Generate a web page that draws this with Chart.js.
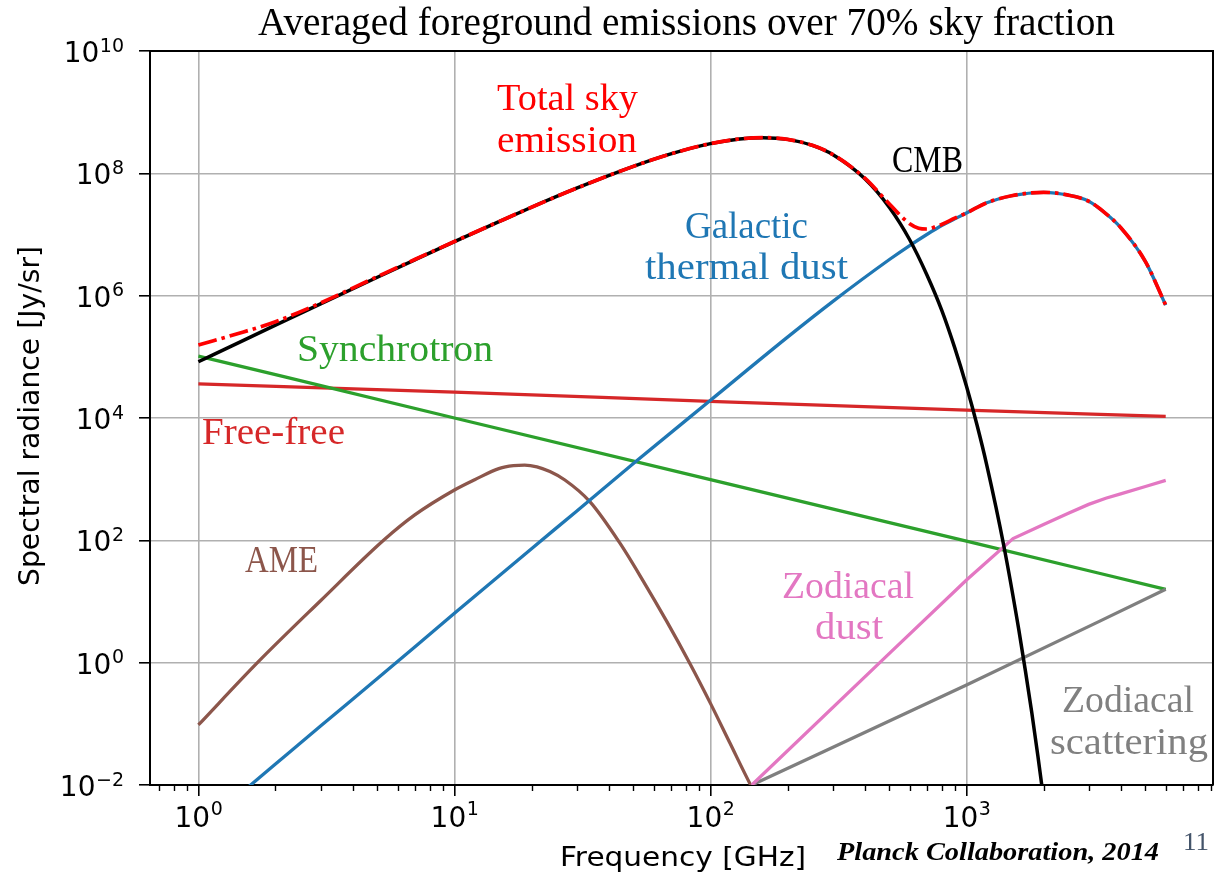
<!DOCTYPE html>
<html>
<head>
<meta charset="utf-8">
<title>Averaged foreground emissions</title>
<script src="https://cdn.jsdelivr.net/npm/chart.js@4.4.1/dist/chart.umd.min.js"></script>
<style>
  html, body { margin: 0; padding: 0; background: #ffffff; }
  #wrap { width: 1226px; height: 873px; position: relative; background: #ffffff; }
</style>
</head>
<body>
<div id="wrap"><canvas id="chart" width="1226" height="873"></canvas></div>
<script>
// --- values (frequency in GHz, radiance in Jy/sr) ---
const totalFreq = [1, 1.5, 2, 3, 5, 7, 10, 15, 20, 30, 50, 70, 100, 130, 160, 200, 250, 300, 400, 500, 600, 650, 700, 750, 800, 900, 1000, 1200, 1500, 2000, 2500, 3000, 3500, 4000, 5000, 6000];
const totalVal  = [1.56e5, 2.55e5, 3.75e5, 7.6e5, 2.05e6, 3.9e6, 7.7e6, 1.64e7, 2.79e7, 5.71e7, 1.30e8, 2.08e8, 3.06e8, 3.65e8, 3.83e8, 3.6e8, 2.87e8, 2.04e8, 8.4e7, 3.15e7, 1.5e7, 1.27e7, 1.23e7, 1.32e7, 1.46e7, 1.85e7, 2.25e7, 3.3e7, 4.3e7, 4.9e7, 4.4e7, 3.5e7, 2.2e7, 1.3e7, 3.6e6, 7.0e5];

const cmbFreq = [1, 1.5, 2, 3, 5, 7, 10, 15, 20, 30, 50, 70, 100, 130, 160, 200, 250, 300, 400, 500, 600, 700, 800, 900, 1000, 1100, 1200, 1400, 1600, 1700, 1800, 1900, 2000];
const cmbVal  = [8.3e4, 1.86e5, 3.29e5, 7.33e5, 2.0e6, 3.85e6, 7.65e6, 1.64e7, 2.79e7, 5.71e7, 1.30e8, 2.08e8, 3.06e8, 3.65e8, 3.83e8, 3.59e8, 2.86e8, 2.03e8, 8.2e7, 2.76e7, 8.2e6, 2.2e6, 5.8e5, 1.4e5, 3.3e4, 7.6e3, 1.7e3, 80, 3.5, 0.72, 0.15, 0.03, 0.006];

const dustFreq = [1, 2, 3, 5, 10, 20, 30, 50, 100, 200, 300, 500, 600, 700, 800, 900, 1000, 1200, 1500, 2000, 2500, 3000, 3500, 4000, 5000, 6000];
const dustVal  = [1.9e-3, 0.022, 0.092, 0.55, 6.4, 73, 300, 1800, 1.95e4, 2.1e5, 8.0e5, 3.9e6, 6.6e6, 1.0e7, 1.4e7, 1.8e7, 2.25e7, 3.3e7, 4.3e7, 4.9e7, 4.4e7, 3.5e7, 2.2e7, 1.3e7, 3.6e6, 7.0e5];

const syncFreq = [1, 10, 100, 1000, 6000];
const syncVal  = [1.03e5, 1.0e4, 980, 97, 15.8];

const ffFreq = [1, 10, 100, 1000, 6000];
const ffVal  = [3.6e4, 2.65e4, 1.87e4, 1.34e4, 1.06e4];

const ameFreq = [1, 1.7, 3, 5.3, 7, 10, 12, 15, 17, 18.8, 21, 23.6, 27, 33.8, 44.3, 54.7, 67.4, 83.2, 100, 119, 143, 146];
const ameVal  = [0.096, 1.0, 10.3, 101, 260, 665, 980, 1500, 1660, 1700, 1590, 1330, 970, 430, 90, 21.4, 4.77, 0.96, 0.216, 0.049, 0.0103, 0.0088];

const zodiDustFreq = [145, 500, 1000, 1520, 2000, 2500, 3000, 3500, 4000, 5000, 6000];
const zodiDustVal  = [0.01, 1.42, 22.5, 107, 182, 278, 387, 488, 575, 760, 955];

const zodiScatFreq = [145, 1000, 6000];
const zodiScatVal  = [0.01, 0.43, 15.8];

// axis ticks
const xMin = 0.647, xMax = 9180;
const xMajorTicks = [1, 10, 100, 1000];
const xTickExp = ['0', '1', '2', '3'];
const xMinorTicks = [0.7, 0.8, 0.9, 2, 3, 4, 5, 6, 7, 8, 9, 20, 30, 40, 50, 60, 70, 80, 90,
                     200, 300, 400, 500, 600, 700, 800, 900, 2000, 3000, 4000, 5000, 6000, 7000, 8000, 9000];
const yMin = 1e-2, yMax = 1e10;
const yTicks = [1e-2, 1, 1e2, 1e4, 1e6, 1e8, 1e10];
const yTickExp = ['\u22122', '0', '2', '4', '6', '8', '10'];

function pts(xs, ys) { return xs.map((x, i) => ({ x: x, y: ys[i] })); }

// --- text labels placed on the figure ---
const SERIF = '"Liberation Serif", "DejaVu Serif", serif';
const SANS = '"DejaVu Sans", sans-serif';
const notes = [
  { t: 'Total sky', x: 497, y: 110, w: 141, c: '#ff0000' },
  { t: 'emission', x: 497, y: 151.5, w: 140, c: '#ff0000' },
  { t: 'CMB', x: 892, y: 171.5, w: 71, c: '#000000' },
  { t: 'Galactic', x: 685, y: 237.5, w: 123, c: '#1f77b4' },
  { t: 'thermal dust', x: 645, y: 278.5, w: 203, c: '#1f77b4' },
  { t: 'Synchrotron', x: 297, y: 361, w: 196, c: '#2ca02c' },
  { t: 'Free-free', x: 202, y: 443.5, w: 143, c: '#d62728' },
  { t: 'AME', x: 245, y: 571.5, w: 73, c: '#8c564b' },
  { t: 'Zodiacal', x: 782, y: 597.5, w: 132, c: '#e377c2' },
  { t: 'dust', x: 815, y: 638.5, w: 68, c: '#e377c2' },
  { t: 'Zodiacal', x: 1062, y: 711.5, w: 132, c: '#808080' },
  { t: 'scattering', x: 1050, y: 753.5, w: 158, c: '#808080' }
];

function fitText(ctx, txt, x, y, w, font, color) {
  ctx.save();
  ctx.font = font;
  ctx.fillStyle = color;
  ctx.textAlign = 'left';
  ctx.textBaseline = 'alphabetic';
  const nat = ctx.measureText(txt).width;
  ctx.translate(x, y);
  ctx.scale(w / nat, 1);
  ctx.fillText(txt, 0, 0);
  ctx.restore();
}

const decorPlugin = {
  id: 'decor',
  afterDatasetsDraw(chart) {
    const ctx = chart.ctx;
    const a = chart.chartArea;
    // top / right spines
    ctx.save();
    ctx.strokeStyle = '#000';
    ctx.lineWidth = 2;
    ctx.beginPath();
    ctx.moveTo(a.left, a.top);
    ctx.lineTo(a.right, a.top);
    ctx.lineTo(a.right, a.bottom);
    ctx.stroke();
    // minor x ticks
    const xs = chart.scales.x;
    ctx.lineWidth = 1.4;
    ctx.beginPath();
    xMinorTicks.forEach(v => {
      const px = Math.round(xs.getPixelForValue(v)) + 0.5;
      ctx.moveTo(px, a.bottom);
      ctx.lineTo(px, a.bottom + 6);
    });
    ctx.stroke();
    ctx.restore();
  },
  afterDraw(chart) {
    const ctx = chart.ctx;
    const xs = chart.scales.x, ys = chart.scales.y;
    ctx.save();
    // y tick labels
    ctx.fillStyle = '#000';
    ctx.textBaseline = 'alphabetic';
    yTicks.forEach((v, i) => {
      const py = ys.getPixelForValue(v);
      ctx.font = '19px ' + SANS;
      ctx.textAlign = 'right';
      const ew = ctx.measureText(yTickExp[i]).width;
      ctx.fillText(yTickExp[i], 124, py + 0.5);
      ctx.font = '28px ' + SANS;
      ctx.fillText('10', 124 - ew - 0.5, py + 11);
    });
    // x tick labels
    xMajorTicks.forEach((v, i) => {
      const px = xs.getPixelForValue(v);
      ctx.font = '28px ' + SANS;
      const bw = ctx.measureText('10').width;
      ctx.font = '19px ' + SANS;
      const ew = ctx.measureText(xTickExp[i]).width;
      const left = px - (bw + ew) / 2;
      ctx.textAlign = 'left';
      ctx.font = '28px ' + SANS;
      ctx.fillText('10', left, 827);
      ctx.font = '19px ' + SANS;
      ctx.fillText(xTickExp[i], left + bw + 0.5, 815);
    });
    ctx.restore();

    // axis titles
    fitText(ctx, 'Frequency [GHz]', 560, 866, 246, '26px ' + SANS, '#000');
    ctx.save();
    ctx.translate(38.5, 586);
    ctx.rotate(-Math.PI / 2);
    fitText(ctx, 'Spectral radiance [Jy/sr]', 0, 0, 340, '28px ' + SANS, '#000');
    ctx.restore();

    // title
    fitText(ctx, 'Averaged foreground emissions over 70% sky fraction', 258, 34.5, 857, '39px ' + SERIF, '#000');

    // curve labels
    notes.forEach(n => fitText(ctx, n.t, n.x, n.y, n.w, '37px ' + SERIF, n.c));

    // footnote + slide number
    fitText(ctx, 'Planck Collaboration, 2014', 837, 860, 322, 'italic bold 25px ' + SERIF, '#000');
    fitText(ctx, '11', 1183, 849.5, 26, '26px ' + SERIF, '#44546a');
  }
};

function lineSet(data, color, width, extra) {
  return Object.assign({
    data: data,
    borderColor: color,
    backgroundColor: color,
    borderWidth: width,
    pointRadius: 0,
    fill: false,
    cubicInterpolationMode: 'monotone'
  }, extra || {});
}

const datasets = [
  lineSet(pts(totalFreq, totalVal), '#ff0000', 3.7, { label: 'Total sky emission', borderDash: [19, 5, 3.5, 5] }),
  lineSet(pts(cmbFreq, cmbVal), '#000000', 3.5, { label: 'CMB' }),
  lineSet(pts(dustFreq, dustVal), '#1f77b4', 3.3, { label: 'Galactic thermal dust' }),
  lineSet(pts(zodiDustFreq, zodiDustVal), '#e377c2', 3.3, { label: 'Zodiacal dust', cubicInterpolationMode: 'default', tension: 0 }),
  lineSet(pts(zodiScatFreq, zodiScatVal), '#7f7f7f', 3.3, { label: 'Zodiacal scattering' }),
  lineSet(pts(syncFreq, syncVal), '#2ca02c', 3.3, { label: 'Synchrotron' }),
  lineSet(pts(ffFreq, ffVal), '#d62728', 3.3, { label: 'Free-free' }),
  lineSet(pts(ameFreq, ameVal), '#8c564b', 3.3, { label: 'AME' })
];

new Chart(document.getElementById('chart'), {
  type: 'line',
  data: { datasets: datasets },
  plugins: [decorPlugin],
  options: {
    responsive: false,
    animation: false,
    devicePixelRatio: 1,
    layout: { padding: { left: 0, right: 13, top: 51, bottom: 0 } },
    plugins: { legend: { display: false }, tooltip: { enabled: false }, title: { display: false } },
    scales: {
      x: {
        type: 'logarithmic',
        position: 'bottom',
        bounds: 'data',
        min: xMin,
        max: xMax,
        afterBuildTicks: s => { s.min = xMin; s.max = xMax; s.ticks = xMajorTicks.map(v => ({ value: v })); },
        afterFit: s => { s.height = 88; },
        ticks: { display: false },
        grid: { color: '#b0b0b0', lineWidth: 1.6, tickLength: 11, tickColor: '#000', tickWidth: 1.6 },
        border: { display: true, color: '#000', width: 2 }
      },
      y: {
        type: 'logarithmic',
        position: 'left',
        bounds: 'data',
        min: yMin,
        max: yMax,
        afterBuildTicks: s => { s.min = yMin; s.max = yMax; s.ticks = yTicks.map(v => ({ value: v })); },
        afterFit: s => { s.width = 150; },
        ticks: { display: false },
        grid: { color: '#b0b0b0', lineWidth: 1.6, tickLength: 11, tickColor: '#000', tickWidth: 1.6 },
        border: { display: true, color: '#000', width: 2 }
      }
    }
  }
});
</script>
</body>
</html>
